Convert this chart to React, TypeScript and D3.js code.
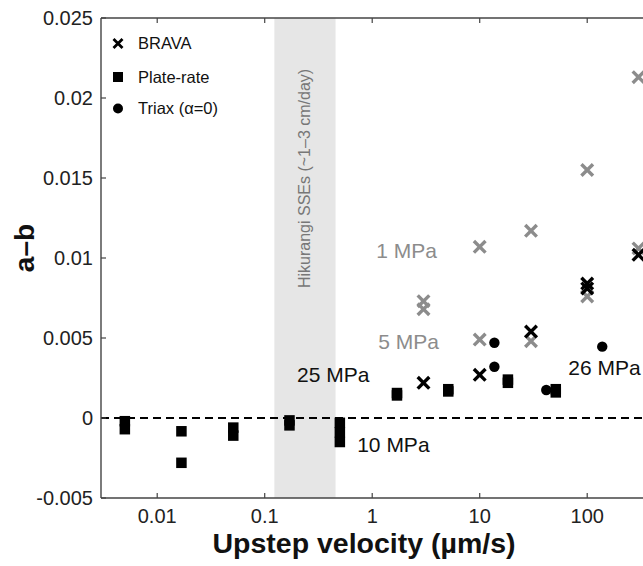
import React from 'react';
import * as d3 from 'd3';

// ---- data ----
const xTickValues = [0.01, 0.1, 1, 10, 100];
const xTickLabels = ['0.01', '0.1', '1', '10', '100'];
const xMajorTop = [0.01, 0.1, 1, 10, 100, 1000];
const yTickValues = [-0.005, 0, 0.005, 0.01, 0.015, 0.02, 0.025];
const yTickLabels = ['-0.005', '0', '0.005', '0.01', '0.015', '0.02', '0.025'];

const plateRateV = [0.005, 0.005, 0.0168, 0.0168, 0.051, 0.051, 0.17, 0.17, 0.5, 0.5, 0.5, 1.7, 1.7, 5.1, 5.1, 18.3, 18.3, 51, 51];
const plateRateAB = [-0.0002, -0.0007, -0.00083, -0.0028, -0.0006, -0.0011, -0.00015, -0.00046, -0.0003, -0.0009, -0.0015, 0.00156, 0.00141, 0.0018, 0.00166, 0.0024, 0.0022, 0.0018, 0.0016];

const bravaGrayV = [3, 3, 10, 10, 30, 30, 100, 100, 300, 300];
const bravaGrayAB = [0.0073, 0.0068, 0.0107, 0.0049, 0.0117, 0.0048, 0.0155, 0.0076, 0.0213, 0.0106];

const bravaBlackV = [3, 10, 30, 100, 100, 300];
const bravaBlackAB = [0.0022, 0.0027, 0.0054, 0.0084, 0.0081, 0.0102];

const triaxV = [13.7, 13.7, 41.6, 138];
const triaxAB = [0.0047, 0.0032, 0.00175, 0.00446];

const bandRange = [0.123, 0.456];
const bandLabel = 'Hikurangi SSEs (~1\u20133 cm/day)';

const annotTexts = ['1 MPa', '5 MPa', '25 MPa', '10 MPa', '26 MPa'];
const annotV = [1.09, 1.137, 0.2, 0.725, 66.6];
const annotAB = [0.0100, 0.00431, 0.00225, -0.002125, 0.00269];
const annotGray = [true, true, false, false, false];

const legendLabels = ['BRAVA', 'Plate-rate', 'Triax (\u03b1=0)'];

// ---- layout ----
const W = 643;
const H = 566;
const left = 101;
const top = 18;
const bottom = 498;
const FONT = "'Liberation Sans', Arial, Helvetica, sans-serif";
const GRAY = '#8c8c8c';

const x = d3.scaleLog().domain([0.003, 1000]).range([left, 101 + 107.5 * Math.log10(1000 / 0.003)]);
const y = d3.scaleLinear().domain([-0.005, 0.025]).range([bottom, top]);

function XMark({ cx, cy, color, s = 5.8, w = 3.4 }: any) {
  const p = d3.path();
  p.moveTo(cx - s, cy - s); p.lineTo(cx + s, cy + s);
  p.moveTo(cx - s, cy + s); p.lineTo(cx + s, cy - s);
  return <path d={p.toString()} stroke={color} strokeWidth={w} fill="none" />;
}

export default function App() {
  const sq = 10.5;
  const r = 5.2;
  const xRight = W + 5;
  return (
    <svg width={W} height={H} style={{ position: 'absolute', left: 0, top: 0, background: '#fff' }} fontFamily={FONT}>
      <rect x={0} y={0} width={W} height={H} fill="#fff" />
      {/* shaded band */}
      <rect x={x(bandRange[0])} y={top} width={x(bandRange[1]) - x(bandRange[0])} height={bottom - top} fill="#e6e6e6" />
      <text transform={`translate(${x(0.265)},${y(0.01497)}) rotate(-90)`} textAnchor="middle" fontSize={16} fill="#777">{bandLabel}</text>

      {/* zero line */}
      <line x1={left} x2={xRight} y1={y(0)} y2={y(0)} stroke="#000" strokeWidth={2} strokeDasharray="8,5" />

      {/* axes */}
      <line x1={left} x2={left} y1={top} y2={bottom} stroke="#444" strokeWidth={1.4} />
      <line x1={left} x2={xRight} y1={bottom} y2={bottom} stroke="#444" strokeWidth={1.4} />
      <line x1={left} x2={xRight} y1={top} y2={top} stroke="#444" strokeWidth={1.4} />
      {xMajorTop.map((v) => (
        <g key={'xt' + v}>
          <line x1={x(v)} x2={x(v)} y1={bottom} y2={bottom - 5} stroke="#444" strokeWidth={1.2} />
          <line x1={x(v)} x2={x(v)} y1={top} y2={top + 5} stroke="#444" strokeWidth={1.2} />
        </g>
      ))}
      {xTickValues.map((v, i) => (
        <text key={'xl' + v} x={x(v)} y={523} textAnchor="middle" fontSize={20} fill="#222">{xTickLabels[i]}</text>
      ))}
      {yTickValues.map((v, i) => (
        <g key={'yt' + v}>
          <line x1={left} x2={left + 5} y1={y(v)} y2={y(v)} stroke="#444" strokeWidth={1.2} />
          <text x={93} y={y(v)} dy="0.36em" textAnchor="end" fontSize={20} fill="#222">{yTickLabels[i]}</text>
        </g>
      ))}

      {/* axis titles */}
      <text x={364} y={553} textAnchor="middle" fontSize={28.5} fontWeight="bold" fill="#111">Upstep velocity (µm/s)</text>
      <text transform={`translate(34,248) rotate(-90)`} textAnchor="middle" fontSize={28} fontWeight="bold" fill="#111">a–b</text>

      {/* data */}
      {plateRateV.map((v, i) => (
        <rect key={'pr' + i} x={x(v) - sq / 2} y={y(plateRateAB[i]) - sq / 2} width={sq} height={sq} fill="#000" />
      ))}
      {bravaGrayV.map((v, i) => (
        <XMark key={'bg' + i} cx={x(v)} cy={y(bravaGrayAB[i])} color={GRAY} />
      ))}
      {bravaBlackV.map((v, i) => (
        <XMark key={'bb' + i} cx={x(v)} cy={y(bravaBlackAB[i])} color="#000" />
      ))}
      {triaxV.map((v, i) => (
        <circle key={'tx' + i} cx={x(v)} cy={y(triaxAB[i])} r={r} fill="#000" />
      ))}

      {/* annotations */}
      {annotTexts.map((t, i) => (
        <text key={'an' + i} x={x(annotV[i])} y={y(annotAB[i])} fontSize={21} fill={annotGray[i] ? GRAY : '#111'}>{t}</text>
      ))}

      {/* legend */}
      <XMark cx={118} cy={43.5} color="#000" s={4.5} w={2.8} />
      <rect x={118 - 5} y={77 - 5} width={10} height={10} fill="#000" />
      <circle cx={118} cy={108.5} r={5} fill="#000" />
      {legendLabels.map((t, i) => (
        <text key={'lg' + i} x={138} y={[43.5, 77, 108.5][i]} dy="0.36em" fontSize={16.5} fill="#111">{t}</text>
      ))}
    </svg>
  );
}
